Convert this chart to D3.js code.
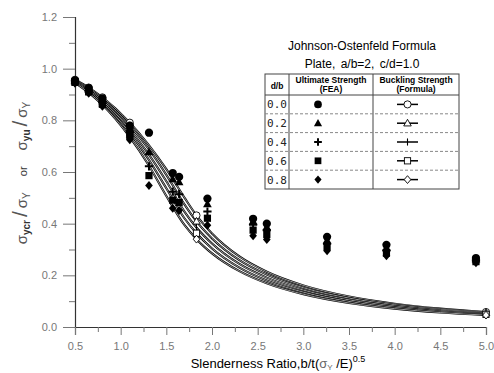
<!DOCTYPE html>
<html><head><meta charset="utf-8">
<script src="https://cdn.jsdelivr.net/npm/d3@7"></script>
<style>body{margin:0;background:#fff}svg{display:block;font-family:"Liberation Sans",Arial,sans-serif}</style>
</head><body><svg id="c" width="494" height="373"></svg>
<script>
// ---- data ----
const dbLabels = ["0.0", "0.2", "0.4", "0.6", "0.8"];
const xTicks = [0.5, 1.0, 1.5, 2.0, 2.5, 3.0, 3.5, 4.0, 4.5, 5.0];
const yTicks = [0.0, 0.2, 0.4, 0.6, 0.8, 1.0, 1.2];
// FEA ultimate strength
const feaX = [0.5, 0.65, 0.8, 1.1, 1.31, 1.57, 1.64, 1.95, 2.45, 2.6, 3.26, 3.91, 4.89];
const fea00 = [0.955, 0.925, 0.885, 0.780, 0.752, 0.596, 0.581, 0.497, 0.419, 0.400, 0.349, 0.318, 0.267];
const fea02 = [0.952, 0.920, 0.878, 0.768, 0.677, 0.573, 0.561, 0.476, 0.409, 0.387, 0.335, 0.307, 0.263];
const fea04 = [0.950, 0.915, 0.870, 0.755, 0.622, 0.524, 0.514, 0.447, 0.396, 0.375, 0.322, 0.296, 0.258];
const fea06 = [0.947, 0.910, 0.862, 0.740, 0.586, 0.491, 0.482, 0.421, 0.375, 0.358, 0.310, 0.286, 0.253];
const fea08 = [0.944, 0.905, 0.855, 0.725, 0.548, 0.460, 0.451, 0.394, 0.353, 0.339, 0.295, 0.276, 0.249];
// Johnson-Ostenfeld buckling strength curves
const curveX = [0.5, 0.65, 0.8, 1.1, 1.3, 1.5, 1.7, 1.83, 2.0, 2.3, 2.6, 3.0, 3.5, 4.0, 4.5, 5.0];
const jo00 = [0.957, 0.927, 0.889, 0.791, 0.708, 0.611, 0.500, 0.432, 0.362, 0.273, 0.214, 0.161, 0.118, 0.090, 0.071, 0.058];
const jo02 = [0.954, 0.923, 0.883, 0.779, 0.692, 0.589, 0.474, 0.409, 0.343, 0.259, 0.203, 0.152, 0.112, 0.086, 0.068, 0.055];
const jo04 = [0.952, 0.918, 0.876, 0.765, 0.672, 0.564, 0.446, 0.385, 0.323, 0.244, 0.191, 0.143, 0.105, 0.081, 0.064, 0.052];
const jo06 = [0.949, 0.913, 0.868, 0.751, 0.652, 0.537, 0.420, 0.363, 0.304, 0.230, 0.180, 0.135, 0.099, 0.076, 0.060, 0.049];
const jo08 = [0.945, 0.907, 0.860, 0.735, 0.630, 0.507, 0.394, 0.340, 0.285, 0.216, 0.169, 0.127, 0.093, 0.071, 0.056, 0.046];
const markerX = [0.5, 0.65, 0.8, 1.1, 1.83, 5.0];

const feaSeries = [fea00, fea02, fea04, fea06, fea08];
const joSeries = [jo00, jo02, jo04, jo06, jo08];
const symbols = ["circle", "triangle", "plus", "square", "diamond"];

// ---- chart ----
const svg = d3.select("#c");
const x = d3.scaleLinear().domain([0.5, 5.0]).range([75, 486]);
const y = d3.scaleLinear().domain([0, 1.2]).range([327, 17]);

function drawSym(g, type, cx, cy, filled, s) {
  const fill = filled ? "#000" : "#fff";
  const sw = filled ? 0 : 0.9;
  if (type === "circle") {
    g.append("circle").attr("cx", cx).attr("cy", cy).attr("r", s * 0.55).attr("fill", fill).attr("stroke", "#000").attr("stroke-width", sw);
  } else if (type === "triangle") {
    const h = s * 1.0;
    g.append("path").attr("d", `M${cx},${cy - h * 0.6}L${cx + h * 0.58},${cy + h * 0.42}L${cx - h * 0.58},${cy + h * 0.42}Z`).attr("fill", fill).attr("stroke", "#000").attr("stroke-width", sw);
  } else if (type === "square") {
    const a = s * 0.48;
    g.append("rect").attr("x", cx - a).attr("y", cy - a).attr("width", 2 * a).attr("height", 2 * a).attr("fill", fill).attr("stroke", "#000").attr("stroke-width", sw);
  } else if (type === "diamond") {
    const a = s * 0.6;
    g.append("path").attr("d", `M${cx},${cy - a}L${cx + a * 0.85},${cy}L${cx},${cy + a}L${cx - a * 0.85},${cy}Z`).attr("fill", fill).attr("stroke", "#000").attr("stroke-width", sw);
  } else if (type === "plus") {
    const a = s * 0.55;
    if (filled) {
      g.append("path").attr("d", `M${cx - a},${cy}H${cx + a}M${cx},${cy - a}V${cy + a}`).attr("stroke", "#000").attr("stroke-width", 2).attr("fill", "none");
    } else {
      g.append("path").attr("d", `M${cx},${cy - a}V${cy + a}`).attr("stroke", "#000").attr("stroke-width", 1.1).attr("fill", "none");
    }
  }
}

// axes
svg.append("g").attr("transform", "translate(75,0)")
  .call(d3.axisLeft(y).tickValues(yTicks).tickSize(12).tickPadding(6).tickFormat(d3.format(".1f")));
svg.append("g").attr("transform", "translate(75,0)")
  .call(d3.axisLeft(y).tickValues([0.1, 0.3, 0.5, 0.7, 0.9, 1.1]).tickSize(6).tickFormat(""))
  .select(".domain").remove();
svg.append("g").attr("transform", "translate(0,327)")
  .call(d3.axisBottom(x).tickValues(xTicks).tickSize(8).tickPadding(7).tickFormat(d3.format(".1f")));
svg.append("g").attr("transform", "translate(0,327)")
  .call(d3.axisBottom(x).tickValues([0.75, 1.25, 1.75, 2.25, 2.75, 3.25, 3.75, 4.25, 4.75]).tickSize(5).tickFormat(""))
  .select(".domain").remove();
svg.selectAll(".domain").attr("stroke", "#333").attr("stroke-width", 1.2);
svg.selectAll(".tick line").attr("stroke", "#777");
svg.selectAll(".tick text").attr("fill", "#777").style("font-size", "11px").style("font-family", "Liberation Sans, Arial, sans-serif");

// curves
const line = d3.line().x((d) => x(d[0])).y((d) => y(d[1])).curve(d3.curveMonotoneX);
joSeries.forEach((ser) => {
  const pts = curveX.map((v, k) => [v, ser[k]]);
  svg.append("path").attr("d", line(pts)).attr("fill", "none").attr("stroke", "#000").attr("stroke-width", 2.1);
  svg.append("path").attr("d", line(pts)).attr("fill", "none").attr("stroke", "#fff").attr("stroke-width", 0.6);
});
joSeries.forEach((ser, i) => {
  const g = svg.append("g");
  curveX.forEach((v, k) => {
    if (markerX.includes(v)) drawSym(g, symbols[i], x(v), y(ser[k]), false, 6.5);
  });
});
// FEA points
feaSeries.forEach((ser, i) => {
  const g = svg.append("g");
  feaX.forEach((v, k) => drawSym(g, symbols[i], x(v), y(ser[k]), true, 7.5));
});

// axis titles
const xt = svg.append("text").attr("x", 278).attr("y", 368).attr("text-anchor", "middle")
  .style("font-size", "13px").attr("fill", "#000");
xt.append("tspan").text("Slenderness Ratio,b/t(");
xt.append("tspan").text("σ").attr("fill", "#666");
xt.append("tspan").text("Y").attr("fill", "#666").style("font-size", "8px").attr("dy", 2);
xt.append("tspan").text(" /E)").attr("dy", -2);
xt.append("tspan").text("0.5").style("font-size", "9px").attr("dy", -6);

const yt = svg.append("text").attr("transform", "translate(27,173) rotate(-90)").attr("text-anchor", "middle")
  .style("font-size", "15px").attr("fill", "#555");
function frac(sub, lead) {
  yt.append("tspan").text("σ").attr("dx", lead);
  yt.append("tspan").text(sub).style("font-size", "10px").style("font-weight", "bold").attr("fill", "#333").attr("dy", 3);
  yt.append("tspan").text("/").style("font-size", "21px").attr("dx", 3).attr("dy", -3);
  yt.append("tspan").text("σ").attr("dx", 3);
  yt.append("tspan").text("Y").style("font-size", "10px").attr("dy", 3);
}
frac("ycr", 0);
yt.append("tspan").text("or").style("font-size", "11px").attr("fill", "#333").attr("dx", 16).attr("dy", -3);
frac("yu", 16);

// legend
const L = svg.append("g");
const lx0 = 265, lx1 = 289, lx2 = 373, lx3 = 459, ly0 = 74, lyh = 95, ly1 = 189;
L.append("text").attr("x", 362).attr("y", 50).attr("text-anchor", "middle").style("font-size", "12px").text("Johnson-Ostenfeld Formula");
L.append("text").attr("x", 362).attr("y", 68).attr("text-anchor", "middle").style("font-size", "12px").style("word-spacing", "2px").text("Plate,  a/b=2, c/d=1.0");
L.append("rect").attr("x", lx0).attr("y", ly0).attr("width", lx3 - lx0).attr("height", ly1 - ly0).attr("fill", "#fff").attr("stroke", "#444").attr("stroke-width", 1);
L.append("line").attr("x1", lx1).attr("x2", lx1).attr("y1", ly0).attr("y2", ly1).attr("stroke", "#444");
L.append("line").attr("x1", lx2).attr("x2", lx2).attr("y1", ly0).attr("y2", ly1).attr("stroke", "#444");
L.append("line").attr("x1", lx0).attr("x2", lx3).attr("y1", lyh).attr("y2", lyh).attr("stroke", "#444");
const rowH = (ly1 - lyh) / dbLabels.length;
const hdr = (t, cx, cy) => L.append("text").attr("x", cx).attr("y", cy).attr("text-anchor", "middle").style("font-size", "8.5px").style("font-weight", "bold").text(t);
hdr("d/b", (lx0 + lx1) / 2, 89);
hdr("Ultimate Strength", (lx1 + lx2) / 2, 83);
hdr("(FEA)", (lx1 + lx2) / 2, 92);
hdr("Buckling Strength", (lx2 + lx3) / 2, 83);
hdr("(Formula)", (lx2 + lx3) / 2, 92);
dbLabels.forEach((lab, i) => {
  const cy = lyh + rowH * (i + 0.5);
  if (i > 0) L.append("line").attr("x1", lx0).attr("x2", lx3).attr("y1", lyh + rowH * i).attr("y2", lyh + rowH * i)
    .attr("stroke", "#888").attr("stroke-dasharray", "3,2");
  L.append("text").attr("x", (lx0 + lx1) / 2).attr("y", cy + 4).attr("text-anchor", "middle")
    .style("font-size", "11px").style("font-family", "DejaVu Sans Mono, monospace").attr("fill", "#222").text(lab);
  drawSym(L, symbols[i], 318, cy, true, 7);
  L.append("line").attr("x1", 397).attr("x2", 418).attr("y1", cy).attr("y2", cy).attr("stroke", "#000").attr("stroke-width", 1.5);
  drawSym(L, symbols[i], 407.5, cy, false, 6.5);
});
</script></body></html>
